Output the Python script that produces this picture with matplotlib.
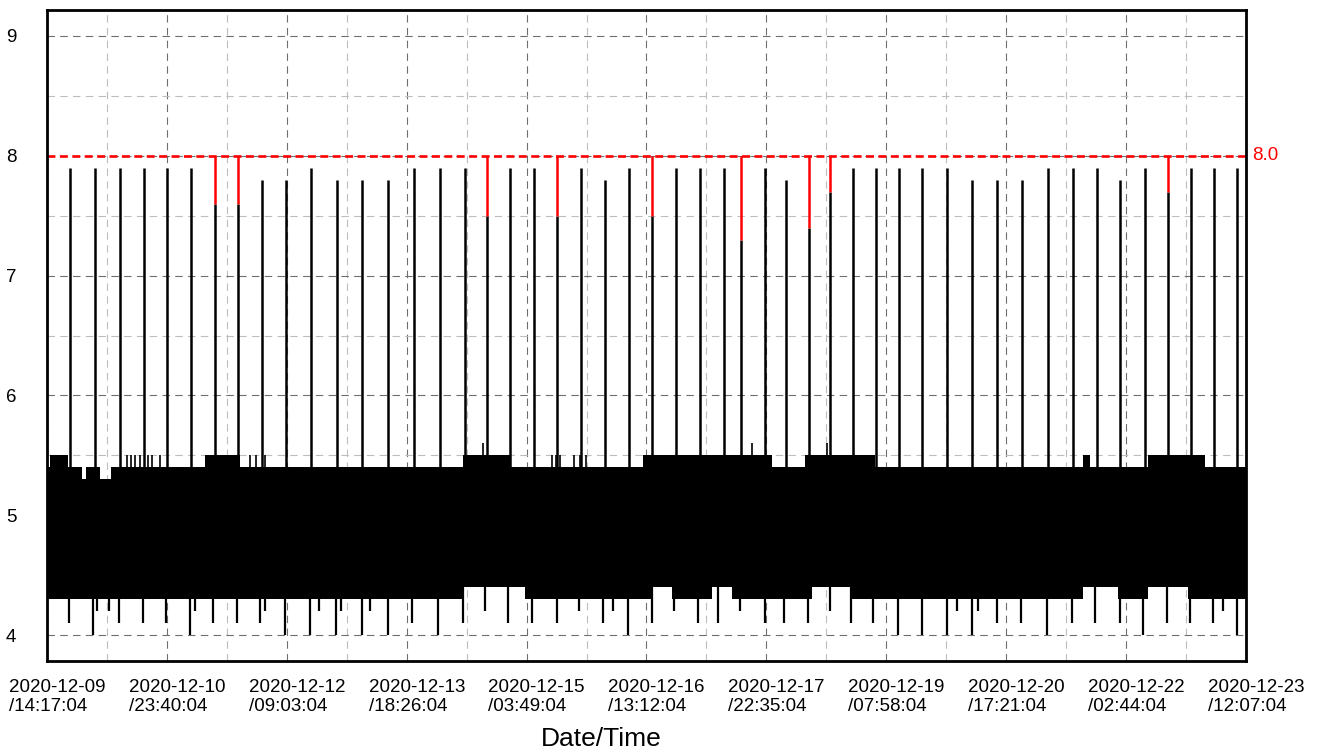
import numpy as np
import matplotlib
matplotlib.use('Agg')
import matplotlib.pyplot as plt
import matplotlib.transforms as mtransforms
import pandas as pd

plt.rcParams['font.family'] = ['Liberation Sans', 'DejaVu Sans']

# time axis: start and tick step
t0 = pd.Timestamp('2020-12-09 14:17:04')
tick_step = pd.Timedelta(hours=33, minutes=23)
n_steps = 10

# big periodic spikes (hours after t0), peak value, and whether they hit the 8.0 alarm
spike_h = [6.27, 13.23, 20.19, 26.88, 33.29, 39.97, 46.66, 53.06, 59.75, 66.43,
           73.40, 80.64, 87.60, 94.84, 102.09, 109.33, 116.29, 122.42, 128.83, 135.51,
           141.92, 148.60, 155.29, 161.97, 168.38, 175.06, 181.75, 188.43, 193.17, 199.85,
           205.70, 212.11, 217.96, 224.36, 230.77, 237.18, 243.58, 250.55, 257.51, 264.47,
           271.44, 278.68, 285.64, 292.33, 298.73, 305.70, 312.11, 318.51, 324.92, 331.32]
spike_top = [7.9, 7.9, 7.9, 7.9, 7.9, 7.9, 7.6, 7.6, 7.8, 7.8,
             7.9, 7.8, 7.8, 7.8, 7.9, 7.9, 7.9, 7.5, 7.9, 7.9,
             7.5, 7.9, 7.8, 7.9, 7.5, 7.9, 7.9, 7.9, 7.3, 7.9,
             7.8, 7.4, 7.7, 7.9, 7.9, 7.9, 7.9, 7.9, 7.8, 7.8,
             7.8, 7.9, 7.9, 7.9, 7.8, 7.9, 7.7, 7.9, 7.9, 7.9]
spike_alarm = [0, 0, 0, 0, 0, 0, 1, 1, 0, 0,
               0, 0, 0, 0, 0, 0, 0, 1, 0, 0,
               1, 0, 0, 0, 1, 0, 0, 0, 1, 0,
               0, 1, 1, 0, 0, 0, 0, 0, 0, 0,
               0, 0, 0, 0, 0, 0, 1, 0, 0, 0]
alarm_level = 8.0

# downward dips below the band
dip_h = [5.99, 12.67, 13.79, 17.13, 19.92, 26.60, 33.01, 39.69, 41.08, 46.10,
         52.78, 59.19, 60.58, 66.15, 73.12, 75.62, 80.36, 81.75, 87.60, 89.83,
         94.84, 101.53, 108.77, 115.73, 121.86, 128.27, 134.95, 141.92, 148.04, 154.73,
         157.52, 161.69, 168.38, 174.51, 181.19, 186.76, 192.89, 199.85, 205.14, 211.83,
         217.96, 223.81, 229.93, 236.90, 243.58, 250.55, 253.33, 257.51, 259.18, 264.47,
         271.16, 278.40, 285.36, 291.77, 298.73, 305.14, 311.83, 318.23, 324.64, 327.42,
         331.32]
dip_low = [4.1, 4.0, 4.2, 4.2, 4.1, 4.1, 4.1, 4.0, 4.2, 4.1,
           4.1, 4.1, 4.2, 4.0, 4.0, 4.2, 4.0, 4.2, 4.0, 4.2,
           4.0, 4.1, 4.0, 4.1, 4.2, 4.1, 4.1, 4.1, 4.2, 4.1,
           4.2, 4.0, 4.1, 4.2, 4.1, 4.1, 4.2, 4.1, 4.1, 4.1,
           4.2, 4.1, 4.1, 4.0, 4.0, 4.0, 4.2, 4.0, 4.2, 4.1,
           4.1, 4.0, 4.1, 4.1, 4.1, 4.0, 4.1, 4.1, 4.1, 4.2,
           4.0]

# small upward blips above the band
blip_h = [22.14, 23.26, 24.37, 25.76, 27.99, 29.11, 31.34, 56.40, 58.08, 60.58,
          121.31, 140.52, 141.64, 142.75, 146.65, 148.32, 149.99, 196.23, 217.12]
blip_top = [5.5, 5.5, 5.5, 5.5, 5.5, 5.5, 5.5, 5.5, 5.5, 5.5,
            5.6, 5.5, 5.5, 5.5, 5.5, 5.5, 5.5, 5.6, 5.6]

# envelope of the dense noise band (step values starting at each time)
top_h = [0, 0.70, 5.71, 9.61, 10.72, 14.62, 17.69, 43.87, 53.62, 115.73,
         128.83, 165.87, 201.80, 211.00, 230.49, 288.43, 290.38, 306.54, 322.41, 333.83]
top_val = [5.4, 5.5, 5.4, 5.3, 5.4, 5.3, 5.4, 5.5, 5.4, 5.5,
           5.4, 5.5, 5.4, 5.5, 5.4, 5.5, 5.4, 5.5, 5.4, 5.4]
bot_h = [0, 115.73, 133.00, 168.66, 173.95, 185.09, 190.66, 212.94, 224.09, 288.43,
         298.18, 306.54, 317.67, 333.83]
bot_val = [4.3, 4.4, 4.3, 4.4, 4.3, 4.4, 4.3, 4.4, 4.3, 4.4,
           4.3, 4.4, 4.3, 4.3]


def to_time(h):
    return t0 + pd.to_timedelta(np.asarray(h, dtype=float), unit='h')


fig = plt.figure(figsize=(13.22, 7.54), dpi=100)
ax = fig.add_axes([47 / 1322, 93 / 754, 1199 / 1322, 651 / 754])

# noise band
ax.fill_between(to_time(top_h), 5.0, top_val, step='post', color='black', lw=0, zorder=2)
ax.fill_between(to_time(bot_h), bot_val, 5.0, step='post', color='black', lw=0, zorder=2)

# spikes / dips / blips
ax.vlines(to_time(spike_h), 5.3, spike_top, color='black', lw=1.8, zorder=3)
al = np.array(spike_alarm, dtype=bool)
ax.vlines(to_time(np.array(spike_h)[al]), np.array(spike_top)[al], alarm_level,
          color='red', lw=1.8, zorder=3)
ax.vlines(to_time(dip_h), dip_low, 4.45, color='black', lw=1.6, zorder=3)
ax.vlines(to_time(blip_h), 5.35, blip_top, color='black', lw=1.2, zorder=3)

# alarm threshold
ax.axhline(alarm_level, color='red', ls=(0, (3.0, 1.7)), lw=1.9, zorder=4)
lbl_tr = mtransforms.blended_transform_factory(
    ax.transAxes + mtransforms.ScaledTranslation(6 / 100, 0, fig.dpi_scale_trans), ax.transData)
ax.text(1.0, alarm_level, '%.1f' % alarm_level, transform=lbl_tr, color='red',
        fontsize=13.5, ha='left', va='center', clip_on=False)

# axes
ticks = [t0 + k * tick_step for k in range(n_steps + 1)]
minor = [t0 + (k + 0.5) * tick_step for k in range(n_steps)]
ax.set_xlim(ticks[0], ticks[-1])
ax.set_ylim(3.783, 9.217)
ax.set_xticks(ticks)
ax.set_xticks(minor, minor=True)
ax.set_xticklabels([f'{t:%Y-%m-%d}\n/{t:%H:%M:%S}' for t in ticks])
ax.set_yticks([4, 5, 6, 7, 8, 9])
ax.set_yticks([4.5, 5.5, 6.5, 7.5, 8.5], minor=True)
ax.tick_params(which='both', length=0)
ax.tick_params(axis='x', labelsize=13.5, pad=13.3)
ax.tick_params(axis='y', labelsize=13.5, pad=22)

ax.grid(which='major', color='#6e6e6e', ls=(0, (6.7, 4.8)), lw=0.8, zorder=0)
ax.grid(which='minor', color='#bdbdbd', ls=(0, (6.7, 4.8)), lw=0.8, zorder=0)
ax.set_axisbelow(True)
for s in ax.spines.values():
    s.set_linewidth(2)
    s.set_zorder(5)

off = mtransforms.ScaledTranslation(10 / 100, 0, fig.dpi_scale_trans)
for lab in ax.get_xticklabels():
    lab.set_transform(lab.get_transform() + off)
    lab.set_multialignment('left')
    lab.set_linespacing(1.1)

fig.text(601 / 1322, 1 - 739 / 754, 'Date/Time', fontsize=19, ha='center', va='center')

plt.savefig('out.png', dpi=100)
plt.close()
